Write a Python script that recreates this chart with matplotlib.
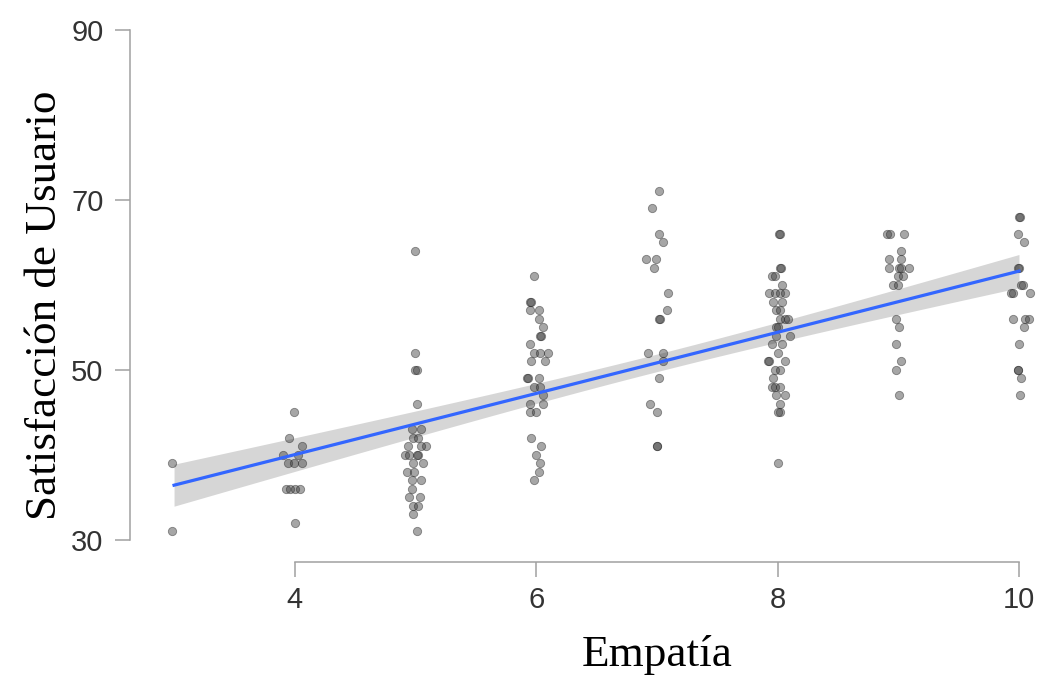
import numpy as np
import matplotlib
matplotlib.use("Agg")
import matplotlib.pyplot as plt

# Empatía groups and the Satisfacción values read for each group
empatia = [3, 4, 5, 6, 7, 8, 9, 10]
sat_3 = [39, 31]
sat_4 = [45, 42, 41, 40, 40, 39, 39, 39, 36, 36, 36, 36, 32]
sat_5 = [64, 52, 50, 50, 46, 43, 43, 42, 42, 41, 41, 41, 40, 40, 40, 40,
         39, 39, 38, 38, 37, 37, 36, 35, 35, 34, 34, 33, 31]
sat_6 = [61, 58, 58, 57, 57, 56, 55, 54, 54, 53, 52, 52, 52, 51, 51,
         49, 49, 49, 48, 48, 47, 46, 46, 45, 45, 42, 41, 40, 39, 38, 37]
sat_7 = [71, 69, 66, 65, 63, 63, 62, 59, 57, 56, 56, 52, 52, 51, 49, 46, 45, 41, 41]
sat_8 = [66, 66, 62, 62, 61, 61, 60, 59, 59, 59, 59, 58, 58, 57, 57, 56, 56, 56,
         55, 55, 54, 54, 53, 53, 52, 51, 51, 51, 50, 50, 49, 48, 48, 48, 47, 47,
         46, 45, 45, 39]
sat_9 = [66, 66, 66, 64, 63, 63, 62, 62, 62, 62, 61, 61, 60, 60, 56, 55, 53, 51, 50, 47]
sat_10 = [68, 68, 66, 65, 62, 62, 60, 60, 59, 59, 59, 56, 56, 56, 55, 53, 50, 50, 49, 47]

# horizontal jitter of each point, as seen in the picture
jit_3 = [-0.02, -0.02]
jit_4 = [-0.01, -0.05, 0.06, -0.10, 0.03, -0.06, -0.01, 0.06, -0.07, -0.04, 0.0, 0.04, 0.0]
jit_5 = [0.0, 0.0, 0.0, 0.01, 0.01, -0.03, 0.05, -0.02, 0.02, -0.06, 0.09, 0.05,
         -0.09, -0.05, 0.02, 0.01, 0.06, -0.02, -0.07, -0.01, -0.03, 0.05, -0.03,
         -0.05, 0.04, -0.02, 0.02, -0.02, 0.01]
jit_6 = [-0.02, -0.05, -0.04, -0.05, 0.02, 0.02, 0.06, 0.03, 0.04, -0.05, -0.02, 0.03, 0.10,
         -0.04, 0.07, -0.08, -0.07, 0.02, -0.02, 0.03, 0.06, -0.05, 0.06, -0.05, 0.0,
         -0.04, 0.04, 0.0, 0.03, 0.02, -0.02]
jit_7 = [0.02, -0.04, 0.02, 0.05, -0.09, -0.01, -0.02, 0.09, 0.08, 0.02, 0.025, -0.07, 0.05,
         0.05, 0.02, -0.06, 0.0, 0.0, 0.005]
jit_8 = [0.01, 0.02, 0.02, 0.03, -0.05, -0.02, 0.04, -0.07, -0.02, 0.02, 0.06, -0.04, 0.04,
         -0.01, 0.02, 0.02, 0.06, 0.09, -0.01, 0.0, -0.01, 0.10, -0.05, 0.04, 0.0,
         -0.08, -0.07, 0.06, -0.02, 0.02, -0.04, -0.05, -0.02, 0.02, -0.01, 0.06,
         0.02, 0.02, 0.0, 0.0]
jit_9 = [-0.09, -0.07, 0.05, 0.02, -0.08, 0.02, -0.08, 0.01, 0.02, 0.09, 0.0, 0.04,
         -0.04, 0.0, -0.02, 0.01, -0.02, 0.02, -0.02, 0.01]
jit_10 = [0.0, 0.01, -0.01, 0.04, 0.0, -0.01, 0.02, 0.03, -0.07, -0.05, 0.09,
          -0.05, 0.05, 0.08, 0.04, 0.0, -0.01, -0.01, 0.02, 0.01]

groups_sat = [sat_3, sat_4, sat_5, sat_6, sat_7, sat_8, sat_9, sat_10]
groups_jit = [jit_3, jit_4, jit_5, jit_6, jit_7, jit_8, jit_9, jit_10]

x = np.concatenate([[e] * len(g) for e, g in zip(empatia, groups_sat)]).astype(float)
y = np.concatenate(groups_sat).astype(float)
jx = np.concatenate([np.resize(j, len(g)) for j, g in zip(groups_jit, groups_sat)])

# linear fit + 95% confidence band
b1, b0 = np.polyfit(x, y, 1)
n = len(x)
resid = y - (b0 + b1 * x)
s = np.sqrt(np.sum(resid ** 2) / (n - 2))
sxx = np.sum((x - x.mean()) ** 2)
xs = np.linspace(x.min(), x.max(), 100)
fit = b0 + b1 * xs
ci = 1.974 * s * np.sqrt(1.0 / n + (xs - x.mean()) ** 2 / sxx)

fig = plt.figure(figsize=(10.41, 6.75), dpi=100)
ax = fig.add_axes([130 / 1041, 1 - 562 / 675, 910.7 / 1041, 540.5 / 675])

ax.fill_between(xs, fit - ci, fit + ci, color="#cfcfcf", alpha=0.85, lw=0, zorder=1)
ax.scatter(x + jx, y, s=36, facecolor="#3a3a3a", edgecolor="#1a1a1a",
           linewidths=0.6, alpha=0.45, zorder=2)
ax.plot(xs, fit, color="#3366ff", lw=2.3, zorder=3)

ax.set_xlim(2.635, 10.18)
ax.set_ylim(27.4, 91.0)
ax.set_xticks([4, 6, 8, 10])
ax.set_yticks([30, 50, 70, 90])

for side in ["top", "right"]:
    ax.spines[side].set_visible(False)
ax.spines["left"].set_bounds(30, 90)
ax.spines["bottom"].set_bounds(4, 10)
for side in ["left", "bottom"]:
    ax.spines[side].set_color("#a0a0a0")
    ax.spines[side].set_linewidth(1.1)

ax.tick_params(axis="both", length=11, width=1.1, color="#a0a0a0",
               labelcolor="#333333", labelsize=21)
ax.tick_params(axis="y", pad=8)
ax.tick_params(axis="x", pad=6)
for lab in ax.get_xticklabels() + ax.get_yticklabels():
    lab.set_family("Liberation Sans")

ax.text(0.5787, -0.172, "Empatía", transform=ax.transAxes, ha="center", va="center",
        fontsize=32.5, family="Liberation Serif")
ax.text(-0.0933, 0.4755, "Satisfacción de Usuario", transform=ax.transAxes,
        ha="center", va="center", rotation=90, fontsize=32.5, family="Liberation Serif")

fig.savefig("out.png", dpi=100)
